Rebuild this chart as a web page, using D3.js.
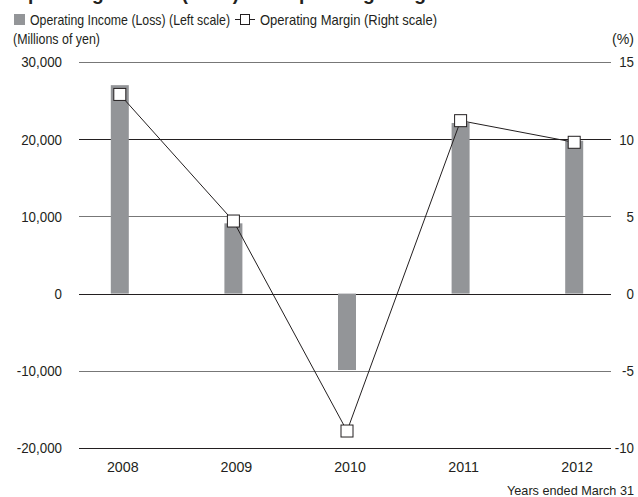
<!DOCTYPE html>
<html>
<head>
<meta charset="utf-8">
<script src="https://cdn.jsdelivr.net/npm/d3@7"></script>
<style>
body { margin: 0; background: #fff; }
svg text { font-family: "Liberation Sans", Arial, sans-serif; fill: #231f20; }
</style>
</head>
<body>
<svg id="chart" width="638" height="497"></svg>
<script>
var years = ["2008", "2009", "2010", "2011", "2012"];
var operatingIncome = [27000, 9100, -9900, 22100, 19800];
var operatingMargin = [12.9, 4.7, -8.9, 11.2, 9.8];
var leftTicks = [30000, 20000, 10000, 0, -10000, -20000];
var rightTicks = [15, 10, 5, 0, -5, -10];

var svg = d3.select("#chart");

var x = d3.scaleBand().domain(years).range([63, 631]).padding(0),
    yLeft = d3.scaleLinear().domain([-20000, 30000]).range([448, 62]),
    yRight = d3.scaleLinear().domain([-10, 15]).range([448, 62]);

var gridLeft = 79, gridRight = 611;
var fmt = function(d) { return d3.format(",")(d).replace("\u2212", "-"); };

// the original font is a condensed face; squeeze the text to fit
function fit(sel, w) {
    sel.attr("textLength", w).attr("lengthAdjust", "spacingAndGlyphs");
}
function condense(sel, ratio) {
    sel.each(function() {
        var w = this.getComputedTextLength();
        d3.select(this).attr("textLength", w * ratio).attr("lengthAdjust", "spacingAndGlyphs");
    });
}

// title (cut off at top in original)
svg.append("text")
    .attr("x", 13)
    .attr("y", 0)
    .attr("font-size", 20)
    .attr("font-weight", "bold")
    .text("Operating Income (Loss) and Operating Margin")
    .call(fit, 430);

// legend
svg.append("rect")
    .attr("x", 14).attr("y", 14)
    .attr("width", 11).attr("height", 11)
    .attr("fill", "#939598");
svg.append("text")
    .attr("x", 30).attr("y", 25)
    .attr("font-size", 14.5)
    .text("Operating Income (Loss) (Left scale)")
    .call(fit, 200);
svg.append("line")
    .attr("x1", 235).attr("x2", 255)
    .attr("y1", 19.5).attr("y2", 19.5)
    .attr("stroke", "#231f20");
svg.append("rect")
    .attr("x", 240.5).attr("y", 14.5)
    .attr("width", 9).attr("height", 10)
    .attr("fill", "#fff").attr("stroke", "#231f20");
svg.append("text")
    .attr("x", 260).attr("y", 25)
    .attr("font-size", 14.5)
    .text("Operating Margin (Right scale)")
    .call(fit, 177);

// units
svg.append("text")
    .attr("x", 13).attr("y", 44)
    .attr("font-size", 14.5)
    .text("(Millions of yen)")
    .call(fit, 87);
svg.append("text")
    .attr("x", 634).attr("y", 44)
    .attr("font-size", 14.5)
    .attr("text-anchor", "end")
    .text("(%)")
    .call(fit, 22);

// gridlines
svg.append("g").selectAll("line")
    .data(leftTicks)
    .enter().append("line")
    .attr("x1", gridLeft).attr("x2", gridRight)
    .attr("y1", function(d) { return Math.round(yLeft(d)) + 0.5; })
    .attr("y2", function(d) { return Math.round(yLeft(d)) + 0.5; })
    .attr("stroke", function(d) { return (d === 0 || d === 20000 || d === -20000) ? "#231f20" : "#777"; })
    .attr("stroke-width", 1);

// left tick labels
svg.append("g").selectAll("text")
    .data(leftTicks)
    .enter().append("text")
    .attr("x", 62)
    .attr("y", function(d) { return yLeft(d); })
    .attr("dy", "0.36em")
    .attr("font-size", 15)
    .attr("text-anchor", "end")
    .text(function(d) { return fmt(d); })
    .call(condense, 0.89);

// right tick labels
svg.append("g").selectAll("text")
    .data(rightTicks)
    .enter().append("text")
    .attr("x", 634)
    .attr("y", function(d) { return yRight(d); })
    .attr("dy", "0.36em")
    .attr("font-size", 15)
    .attr("text-anchor", "end")
    .text(function(d) { return d; })
    .call(condense, 0.89);

// bars
var data = years.map(function(y, i) {
    return { year: y, income: operatingIncome[i], margin: operatingMargin[i] };
});
var barW = 18;

svg.append("g").selectAll(".bar")
    .data(data)
    .enter().append("rect")
    .attr("class", "bar")
    .attr("x", function(d) { return x(d.year) + x.bandwidth() / 2 - barW / 2; })
    .attr("y", function(d) { return yLeft(Math.max(0, d.income)); })
    .attr("width", barW)
    .attr("height", function(d) { return Math.abs(yLeft(d.income) - yLeft(0)); })
    .attr("fill", "#939598");

// margin line
var line = d3.line()
    .x(function(d) { return x(d.year) + x.bandwidth() / 2; })
    .y(function(d) { return yRight(d.margin); });

svg.append("path")
    .datum(data)
    .attr("d", line)
    .attr("fill", "none")
    .attr("stroke", "#231f20")
    .attr("stroke-width", 1);

var m = 12;
svg.append("g").selectAll(".marker")
    .data(data)
    .enter().append("rect")
    .attr("class", "marker")
    .attr("x", function(d) { return x(d.year) + x.bandwidth() / 2 - m / 2; })
    .attr("y", function(d) { return yRight(d.margin) - m / 2; })
    .attr("width", m)
    .attr("height", m)
    .attr("fill", "#fff")
    .attr("stroke", "#231f20")
    .attr("stroke-width", 1);

// x labels
svg.append("g").selectAll("text")
    .data(years)
    .enter().append("text")
    .attr("x", function(d) { return x(d) + x.bandwidth() / 2 + 3; })
    .attr("y", 472)
    .attr("font-size", 15)
    .attr("text-anchor", "middle")
    .text(function(d) { return d; })
    .call(condense, 0.95);

svg.append("text")
    .attr("x", 634).attr("y", 495)
    .attr("font-size", 13.5)
    .attr("text-anchor", "end")
    .text("Years ended March 31")
    .call(fit, 127);
</script>
</body>
</html>
